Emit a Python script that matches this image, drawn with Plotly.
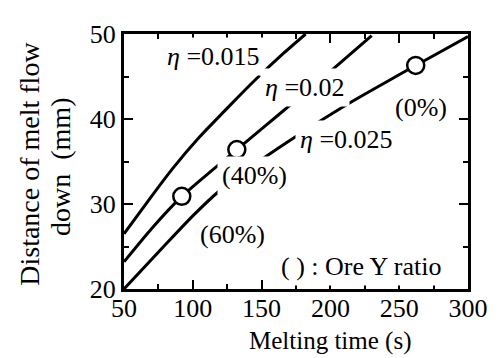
import plotly.graph_objects as go

# Melting time (s) vs distance of melt flow down (mm)
x_eta015 = [50, 70, 85, 105, 127, 146, 165, 182]
y_eta015 = [26.5, 30.9, 34.1, 37.9, 41.6, 44.7, 47.6, 50.0]

x_eta020 = [50, 70, 92, 112, 132, 152, 172, 200, 230]
y_eta020 = [23.2, 27.1, 30.9, 33.7, 36.4, 39.1, 41.8, 45.6, 49.8]

x_eta025 = [50, 80, 100, 119, 148, 168, 188, 213, 240, 262, 300]
y_eta025 = [20.0, 25.2, 28.6, 31.5, 35.0, 37.2, 39.3, 41.8, 44.3, 46.3, 49.7]

# Ore Y ratio points
ratio_x = [92, 132, 262]
ratio_y = [30.9, 36.4, 46.3]

x_ticks = [50, 100, 150, 200, 250, 300]
y_ticks = [20, 30, 40, 50]

FONT = "Times New Roman, Liberation Serif, serif"

fig = go.Figure()
for xs, ys in [(x_eta015, y_eta015), (x_eta020, y_eta020), (x_eta025, y_eta025)]:
    fig.add_trace(go.Scatter(x=xs, y=ys, mode="lines",
                             line=dict(color="black", width=3, shape="spline", smoothing=0.6),
                             showlegend=False, hoverinfo="skip"))

anns = [
    dict(x=115, y=47.4, text="<i>η</i> =0.015"),
    dict(x=181.5, y=43.7, text="<i>η</i> =0.02"),
    dict(x=212, y=37.6, text="<i>η</i> =0.025"),
    dict(x=144.7, y=33.3, text="(40%)"),
    dict(x=128.8, y=26.4, text="(60%)"),
    dict(x=266, y=41.4, text="(0%)"),
    dict(x=222.7, y=22.7, text="( ) : Ore Y ratio"),
]
for a in anns:
    fig.add_annotation(x=a["x"], y=a["y"], text=a["text"], showarrow=False,
                       font=dict(family=FONT, size=26, color="black"),
                       bgcolor="white", borderpad=4)

fig.add_trace(go.Scatter(x=ratio_x, y=ratio_y, mode="markers",
                         marker=dict(symbol="circle", size=17, color="white",
                                     line=dict(color="black", width=2.5)),
                         showlegend=False, hoverinfo="skip"))

axis_common = dict(showline=True, linecolor="black", linewidth=3, mirror="ticks",
                   ticks="inside", ticklen=9, tickwidth=2, tickcolor="black",
                   showgrid=False, zeroline=False,
                   tickfont=dict(family=FONT, size=26, color="black"))

fig.update_xaxes(range=[50, 300], tickvals=x_ticks, ticklabelstandoff=-6,
                 minor=dict(dtick=25, ticks="inside", ticklen=5, tickwidth=2, tickcolor="black"),
                 **axis_common)
fig.update_yaxes(range=[20, 50], tickvals=y_ticks, ticklabelstandoff=0,
                 minor=dict(dtick=5, ticks="inside", ticklen=5, tickwidth=2, tickcolor="black"),
                 **axis_common)

# axis titles
fig.add_annotation(xref="paper", yref="paper", x=0.60, y=-0.203, text="Melting time (s)",
                   showarrow=False, xanchor="center", yanchor="middle",
                   font=dict(family=FONT, size=25, color="black"))
fig.add_annotation(xref="paper", yref="paper", x=-0.277, y=0.49, text="Distance of melt flow",
                   showarrow=False, xanchor="center", yanchor="middle", textangle=-90,
                   font=dict(family=FONT, size=28, color="black"))
fig.add_annotation(xref="paper", yref="paper", x=-0.185, y=0.48, text="down  (mm)",
                   showarrow=False, xanchor="center", yanchor="middle", textangle=-90,
                   font=dict(family=FONT, size=28, color="black"))

# page body has an 8px margin; size the figure so the plot lands where the reference has it
fig.update_layout(width=492, height=350, margin=dict(l=116, r=30, t=17, b=69),
                  plot_bgcolor="white", paper_bgcolor="white",
                  font=dict(family=FONT))

fig.write_html("out.html")
